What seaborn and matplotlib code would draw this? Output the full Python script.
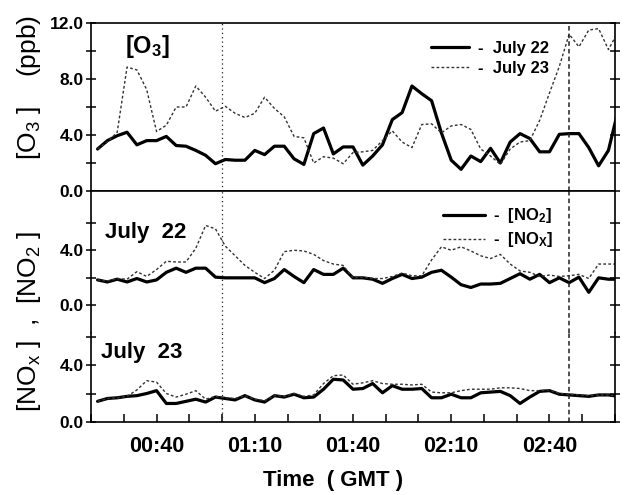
import matplotlib
matplotlib.use('Agg')
import matplotlib.pyplot as plt
from matplotlib.ticker import FixedLocator, MultipleLocator, FormatStrFormatter
import seaborn as sns
import pandas as pd

# sample times, minutes after 00:00 GMT
times = [22, 25, 28, 31, 34, 37, 40, 43, 46, 49, 52, 55, 58, 61, 64, 67, 70, 73,
         76, 79, 82, 85, 88, 91, 94, 97, 100, 103, 106, 109, 112, 115, 118, 121,
         124, 127, 130, 133, 136, 139, 142, 145, 148, 151, 154, 157, 160, 163,
         166, 169, 172, 175, 178, 181]

# [O3] (ppb)
o3_jul22 = [3.0, 3.6, 3.95, 4.2, 3.3, 3.6, 3.6, 3.9, 3.25, 3.2,
            2.9, 2.55, 1.95, 2.25, 2.2, 2.2, 2.9, 2.6, 3.2, 3.2,
            2.3, 1.9, 4.1, 4.5, 2.65, 3.15, 3.15, 1.85, 2.5, 3.3,
            5.1, 5.6, 7.5, 6.95, 6.45, 4.15, 2.2, 1.55, 2.5, 2.1,
            3.05, 2.0, 3.5, 4.1, 3.75, 2.8, 2.8, 4.05, 4.1, 4.1,
            3.1, 1.8, 2.9, 5.8]
o3_jul23 = [3.0, 3.5, 4.2, 8.85, 8.65, 7.25, 4.25, 4.7, 6.0, 6.0,
            7.5, 6.7, 5.7, 6.05, 5.55, 5.25, 5.55, 6.7, 5.9, 5.3,
            3.9, 3.8, 2.0, 2.45, 2.35, 1.95, 2.75, 2.8, 2.9, 3.6,
            4.3, 3.5, 3.1, 4.75, 4.8, 4.15, 4.65, 4.75, 4.4, 3.0,
            2.5, 1.9, 3.0, 3.5, 3.6, 5.05, 7.0, 8.9, 11.2, 10.3,
            11.5, 11.6, 10.1, 11.4]

# July 22 [NO2] and [NOx] (ppb)
no2_jul22 = [1.85, 1.7, 1.9, 1.7, 1.95, 1.7, 1.85, 2.4, 2.7, 2.4,
             2.7, 2.7, 2.05, 2.0, 2.0, 2.0, 2.0, 1.65, 1.95, 2.6,
             2.1, 1.65, 2.6, 2.25, 2.25, 2.7, 2.0, 2.0, 1.9, 1.6,
             1.95, 2.25, 1.95, 2.05, 2.4, 2.55, 2.05, 1.5, 1.3, 1.55,
             1.55, 1.6, 1.95, 2.3, 1.9, 2.25, 1.65, 2.0, 1.65, 2.05,
             0.95, 2.0, 1.9, 1.9]
nox_jul22 = [1.85, 1.75, 1.95, 1.9, 2.45, 2.1, 2.6, 3.2, 3.15, 3.15,
             4.15, 5.8, 5.55, 4.3, 3.6, 2.9, 2.4, 1.95, 2.55, 3.9,
             4.0, 3.95, 3.7, 3.25, 3.0, 2.9, 2.0, 2.05, 1.95, 1.95,
             2.1, 2.35, 2.15, 2.15, 3.3, 4.25, 4.0, 4.25, 3.95, 3.6,
             3.4, 3.7, 3.0, 2.5, 2.4, 2.1, 2.2, 2.1, 2.15, 2.25,
             1.95, 3.0, 3.0, 3.0]

# July 23 [NO2] and [NOx] (ppb)
no2_jul23 = [1.45, 1.65, 1.7, 1.8, 1.85, 2.0, 2.2, 1.3, 1.3, 1.45,
             1.6, 1.4, 1.75, 1.65, 1.55, 1.85, 1.55, 1.4, 1.85, 1.75,
             1.95, 1.7, 1.75, 2.3, 3.0, 2.95, 2.3, 2.35, 2.7, 2.05,
             2.55, 2.3, 2.3, 2.35, 1.7, 1.7, 1.95, 1.7, 1.7, 2.05,
             2.1, 2.15, 1.85, 1.3, 1.75, 2.15, 2.2, 1.95, 1.9, 1.85,
             1.8, 1.9, 1.9, 1.8]
nox_jul23 = [1.45, 1.65, 1.7, 1.8, 2.25, 2.9, 2.8, 2.0, 1.75, 1.95,
             2.2, 1.6, 1.8, 1.7, 1.65, 1.85, 1.6, 1.5, 1.85, 1.8,
             2.0, 1.8, 1.9, 2.7, 3.25, 3.3, 2.65, 2.75, 2.9, 2.7,
             2.65, 2.65, 2.6, 2.65, 2.1, 2.05, 2.05, 2.2, 2.3, 2.3,
             2.3, 2.4, 2.4, 2.35, 2.2, 2.2, 2.25, 2.0, 1.95, 1.9,
             1.85, 1.9, 1.9, 1.8]

event_times = [60, 166]
tick_times = [40, 70, 100, 130, 160]
tick_labels = ['00:40', '01:10', '01:40', '02:10', '02:40']

sns.set_theme(style='ticks')
plt.rcParams['font.family'] = ['Liberation Sans', 'DejaVu Sans']
plt.rcParams['mathtext.fontset'] = 'custom'
plt.rcParams['mathtext.rm'] = 'Liberation Sans'
plt.rcParams['mathtext.it'] = 'Liberation Sans:italic'
plt.rcParams['mathtext.bf'] = 'Liberation Sans:bold'
plt.rcParams['text.color'] = 'black'
plt.rcParams['axes.labelcolor'] = 'black'
plt.rcParams['xtick.color'] = 'black'
plt.rcParams['ytick.color'] = 'black'

df = pd.DataFrame({'t': times, 'o3_22': o3_jul22, 'o3_23': o3_jul23,
                   'no2_22': no2_jul22, 'nox_22': nox_jul22,
                   'no2_23': no2_jul23, 'nox_23': nox_jul23})

fig = plt.figure(figsize=(6.26, 4.95), dpi=100)
ax_o3 = fig.add_axes([0.1454, 0.6141, 0.837, 0.3394])
ax_22 = fig.add_axes([0.1454, 0.3273, 0.837, 0.2869], sharex=ax_o3)
ax_23 = fig.add_axes([0.1454, 0.1475, 0.837, 0.1798], sharex=ax_o3)
axes = [ax_o3, ax_22, ax_23]

solid = dict(color='black', lw=2.3)
dotted = dict(color='#333333', lw=1.0, linestyle=(0, (2, 1.6)))

sns.lineplot(data=df, x='t', y='o3_22', ax=ax_o3, label='-  July 22', **solid)
sns.lineplot(data=df, x='t', y='o3_23', ax=ax_o3, label='-  July 23', **dotted)
sns.lineplot(data=df, x='t', y='no2_22', ax=ax_22, label=r'-  [NO$_\mathbf{2}$]', **solid)
sns.lineplot(data=df, x='t', y='nox_22', ax=ax_22, label=r'-  [NO$_\mathbf{X}$]', **dotted)
sns.lineplot(data=df, x='t', y='no2_23', ax=ax_23, **solid)
sns.lineplot(data=df, x='t', y='nox_23', ax=ax_23, **dotted)

for ax in axes:
    ax.set_xlabel('')
    ax.set_ylabel('')
    ax.axvline(event_times[0], color='#222222', lw=0.9, linestyle=(0, (1, 2.5)))
    ax.axvline(event_times[1], color='#222222', lw=1.1, linestyle=(0, (3, 2)))
    for s in ax.spines.values():
        s.set_linewidth(1.2)
        s.set_color('black')
    ax.tick_params(axis='y', which='both', direction='inout', length=7, width=1.1,
                   left=True, right=True, labelsize=12.5, pad=2, colors='black')
    ax.yaxis.set_major_formatter(FormatStrFormatter('%.1f'))

ax_22.spines['bottom'].set_visible(False)
ax_23.spines['top'].set_visible(False)

ax_o3.set_ylim(0, 12)
ax_o3.set_yticks([0, 4, 8, 12])
ax_o3.set_yticks([2, 6, 10], minor=True)
ax_22.set_ylim(-2.0, 8.3)
ax_22.set_yticks([0, 4])
ax_22.set_yticks([2, 6], minor=True)
ax_23.set_ylim(0, 6.25)
ax_23.set_yticks([0, 4])
ax_23.set_yticks([2, 6], minor=True)

ax_23.set_xlim(20, 180)
ax_23.xaxis.set_major_locator(FixedLocator(tick_times))
ax_23.xaxis.set_minor_locator(MultipleLocator(10))
ax_23.set_xticklabels(tick_labels)
for ax in [ax_o3, ax_22]:
    ax.tick_params(axis='x', which='both', bottom=False, top=False, labelbottom=False)
ax_23.tick_params(axis='x', which='both', direction='in', length=6, width=1.1,
                  bottom=True, top=False, labelsize=15.5, pad=10, colors='black')

for ax in axes:
    for lab in ax.get_yticklabels() + ax.get_xticklabels():
        lab.set_fontweight('bold')

ax_o3.legend(loc='center left', bbox_to_anchor=(0.62, 0.79), frameon=False,
             prop=dict(weight='bold', size=12), handlelength=2.3,
             handletextpad=0.5, labelspacing=0.3)
ax_22.legend(loc='center left', bbox_to_anchor=(0.643, 0.74), frameon=False,
             prop=dict(weight='bold', size=12), handlelength=2.5,
             handletextpad=0.5, labelspacing=0.3)

ax_o3.text(0.065, 0.86, r'[O$_\mathbf{3}$]', transform=ax_o3.transAxes,
           fontsize=17, fontweight='bold', va='center')
ax_22.text(0.027, 0.71, 'July  22', transform=ax_22.transAxes,
           fontsize=16, fontweight='bold', va='center')
ax_23.text(0.02, 0.78, 'July  23', transform=ax_23.transAxes,
           fontsize=16, fontweight='bold', va='center')

fig.text(0.046, 0.824, r'[O$_3$ ]    (ppb)', rotation=90, fontsize=19,
         ha='center', va='center')
fig.text(0.046, 0.35, r'[NO$_\mathrm{x}$ ]  ,  [NO$_2$ ]', rotation=90, fontsize=19,
         ha='center', va='center')
fig.text(0.532, 0.03, 'Time  ( GMT )', fontsize=16, fontweight='bold',
         ha='center', va='center')

fig.savefig('out.png', dpi=100)
plt.close(fig)
